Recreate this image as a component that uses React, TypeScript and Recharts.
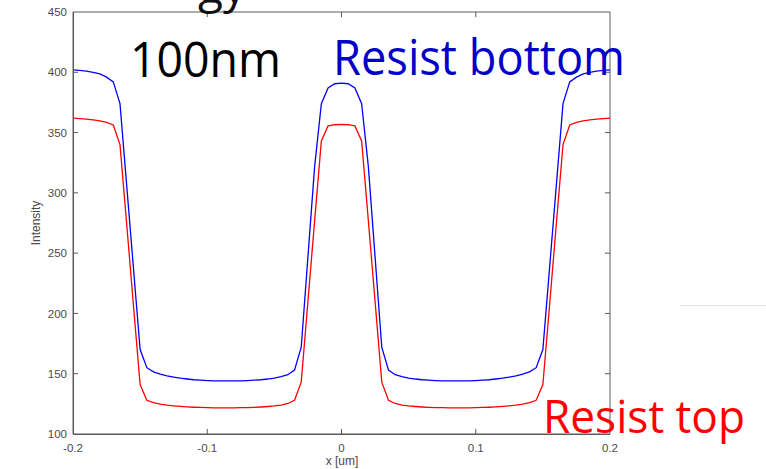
import React from "react";
import { LineChart, Line, XAxis, YAxis, ReferenceLine } from "recharts";

const xValues = [
  -0.2, -0.195, -0.19, -0.185, -0.18, -0.175, -0.17, -0.165, -0.16, -0.155,
  -0.15, -0.145, -0.14, -0.135, -0.13, -0.125, -0.12, -0.115, -0.11, -0.105,
  -0.1, -0.095, -0.09, -0.085, -0.08, -0.075, -0.07, -0.065, -0.06, -0.055,
  -0.05, -0.045, -0.04, -0.035, -0.03, -0.025, -0.02, -0.015, -0.01, -0.005,
  0,
  0.005, 0.01, 0.015, 0.02, 0.025, 0.03, 0.035, 0.04, 0.045, 0.05,
  0.055, 0.06, 0.065, 0.07, 0.075, 0.08, 0.085, 0.09, 0.095, 0.1,
  0.105, 0.11, 0.115, 0.12, 0.125, 0.13, 0.135, 0.14, 0.145, 0.15,
  0.155, 0.16, 0.165, 0.17, 0.175, 0.18, 0.185, 0.19, 0.195, 0.2,
];

const resistBottom = [
  402, 401.6, 400.9, 400, 398.6, 396, 392, 374, 306, 238,
  170, 155, 151.5, 149.6, 148.2, 147.2, 146.3, 145.6, 145, 144.6,
  144.3, 144.1, 144, 144, 144, 144.1, 144.3, 144.6, 145, 145.6,
  146.4, 147.5, 149.2, 153, 172, 247, 322, 374, 387, 390.5,
  391,
  390.5, 387, 374, 322, 247, 172, 153, 149.2, 147.5, 146.4,
  145.6, 145, 144.6, 144.3, 144.1, 144, 144, 144, 144.1, 144.3,
  144.6, 145, 145.6, 146.3, 147.2, 148.2, 149.6, 151.5, 155, 170,
  238, 306, 374, 392, 396, 398.6, 400, 400.9, 401.6, 402,
];

const resistTop = [
  362, 361.6, 361.1, 360.5, 359.7, 358.4, 356.3, 340, 274, 207,
  141, 128, 126, 124.8, 124, 123.4, 122.9, 122.5, 122.2, 122,
  121.8, 121.7, 121.7, 121.7, 121.7, 121.8, 121.9, 122.1, 122.4, 122.8,
  123.3, 124, 125.3, 128, 143, 210, 277, 343, 355.5, 356.5,
  356.8,
  356.5, 355.5, 343, 277, 210, 143, 128, 125.3, 124, 123.3,
  122.8, 122.4, 122.1, 121.9, 121.8, 121.7, 121.7, 121.7, 121.7, 121.8,
  122, 122.2, 122.5, 122.9, 123.4, 124, 124.8, 126, 128, 141,
  207, 274, 340, 356.3, 358.4, 359.7, 360.5, 361.1, 361.6, 362,
];

const xTicks = [-0.2, -0.1, 0, 0.1, 0.2];
const xInnerTicks = [-0.1, 0, 0.1];
const yTicks = [100, 150, 200, 250, 300, 350, 400, 450];
const yInnerTicks = [150, 200, 250, 300, 350, 400];

const rows = xValues.map((x, i) => ({ x, bottom: resistBottom[i], top: resistTop[i] }));

const AXIS = "#5a5a5a";
const LABEL = "#4a4a4a";
const TICK_FONT = "'Liberation Sans', Arial, sans-serif";
const OVER_FONT = "'Open Sans', 'Noto Sans', sans-serif";
const XMIN = -0.2;
const XMAX = 0.2;
const YMIN = 100;
const YMAX = 450;
const TICK_DX = 0.0038;
const TICK_DY = 4.2;

// chart layout
const W = 766;
const H = 469;
const MARGIN = { top: 12, right: 156, bottom: 0, left: 0 };
const YAXIS_W = 73;
const XAXIS_H = 35;
const PLOT_LEFT = MARGIN.left + YAXIS_W;
const PLOT_RIGHT = W - MARGIN.right;
const PLOT_TOP = MARGIN.top;
const PLOT_BOTTOM = H - MARGIN.bottom - XAXIS_H;

const fmtX = (v: number) => (v === 0 ? "0" : v.toFixed(1));
const tickStyle = { fontSize: 11.5, fill: LABEL, fontFamily: TICK_FONT };
const frame = { stroke: AXIS, strokeWidth: 1, ifOverflow: "visible" as const };

export default function App() {
  return (
    <div style={{ position: "absolute", left: 0, top: 0, width: W, height: H, background: "#fff" }}>
      <div style={{ position: "absolute", left: 0, top: 0, width: W, height: H }}>
        <LineChart width={W} height={H} data={rows} margin={MARGIN}>
          <XAxis
            dataKey="x"
            type="number"
            domain={[XMIN, XMAX]}
            ticks={xTicks}
            interval={0}
            height={XAXIS_H}
            tickSize={0}
            tickMargin={10}
            tickLine={false}
            stroke={AXIS}
            axisLine={{ stroke: AXIS }}
            tick={tickStyle}
            tickFormatter={fmtX}
          />
          <YAxis
            type="number"
            domain={[YMIN, YMAX]}
            ticks={yTicks}
            interval={0}
            width={YAXIS_W}
            tickSize={0}
            tickMargin={6}
            tickLine={false}
            stroke={AXIS}
            axisLine={{ stroke: AXIS }}
            tick={tickStyle}
          />
          <ReferenceLine x={XMAX} {...frame} />
          <ReferenceLine y={YMAX} {...frame} />
          {xInnerTicks.map((t) => (
            <ReferenceLine key={`xb${t}`} segment={[{ x: t, y: YMIN }, { x: t, y: YMIN + TICK_DY }]} {...frame} />
          ))}
          {xInnerTicks.map((t) => (
            <ReferenceLine key={`xt${t}`} segment={[{ x: t, y: YMAX }, { x: t, y: YMAX - TICK_DY }]} {...frame} />
          ))}
          {yInnerTicks.map((t) => (
            <ReferenceLine key={`yl${t}`} segment={[{ x: XMIN, y: t }, { x: XMIN + TICK_DX, y: t }]} {...frame} />
          ))}
          {yInnerTicks.map((t) => (
            <ReferenceLine key={`yr${t}`} segment={[{ x: XMAX, y: t }, { x: XMAX - TICK_DX, y: t }]} {...frame} />
          ))}
          <Line
            type="linear"
            dataKey="bottom"
            stroke="#0000ff"
            strokeWidth={1.3}
            dot={false}
            activeDot={false}
            isAnimationActive={false}
          />
          <Line
            type="linear"
            dataKey="top"
            stroke="#ff0000"
            strokeWidth={1.3}
            dot={false}
            activeDot={false}
            isAnimationActive={false}
          />
        </LineChart>
      </div>
      <svg
        width={W}
        height={H}
        style={{ position: "absolute", left: 0, top: 0, pointerEvents: "none" }}
      >
        {/* left and bottom frame edges */}
        <line x1={PLOT_LEFT + 0.5} y1={PLOT_TOP} x2={PLOT_LEFT + 0.5} y2={PLOT_BOTTOM + 0.5} stroke={AXIS} strokeWidth={1} />
        <line x1={PLOT_LEFT} y1={PLOT_BOTTOM + 0.5} x2={PLOT_RIGHT} y2={PLOT_BOTTOM + 0.5} stroke={AXIS} strokeWidth={1} />
        <text x={342} y={465} textAnchor="middle" fontSize={12} fill={LABEL} fontFamily={TICK_FONT}>
          x [um]
        </text>
        <text x={39.5} y={223} transform="rotate(-90, 39.5, 223)" textAnchor="middle" fontSize={12} fill={LABEL} fontFamily={TICK_FONT}>
          Intensity
        </text>
        <text x={198} y={3} fontSize={46} fill="#111" fontFamily={OVER_FONT}>gy</text>
        <text x={130} y={77} fontSize={49} fill="#000" fontFamily={OVER_FONT} textLength={151} lengthAdjust="spacingAndGlyphs">
          100nm
        </text>
        <text x={333} y={75} fontSize={49} fill="#0000c8" fontFamily={OVER_FONT} textLength={292} lengthAdjust="spacingAndGlyphs">
          Resist bottom
        </text>
        <text x={543} y={433} fontSize={46} fill="#ff0000" fontFamily={OVER_FONT} textLength={202} lengthAdjust="spacingAndGlyphs">
          Resist top
        </text>
        <line x1={680} y1={305.5} x2={766} y2={305.5} stroke="#e2e2e2" strokeWidth={1} />
      </svg>
    </div>
  );
}
